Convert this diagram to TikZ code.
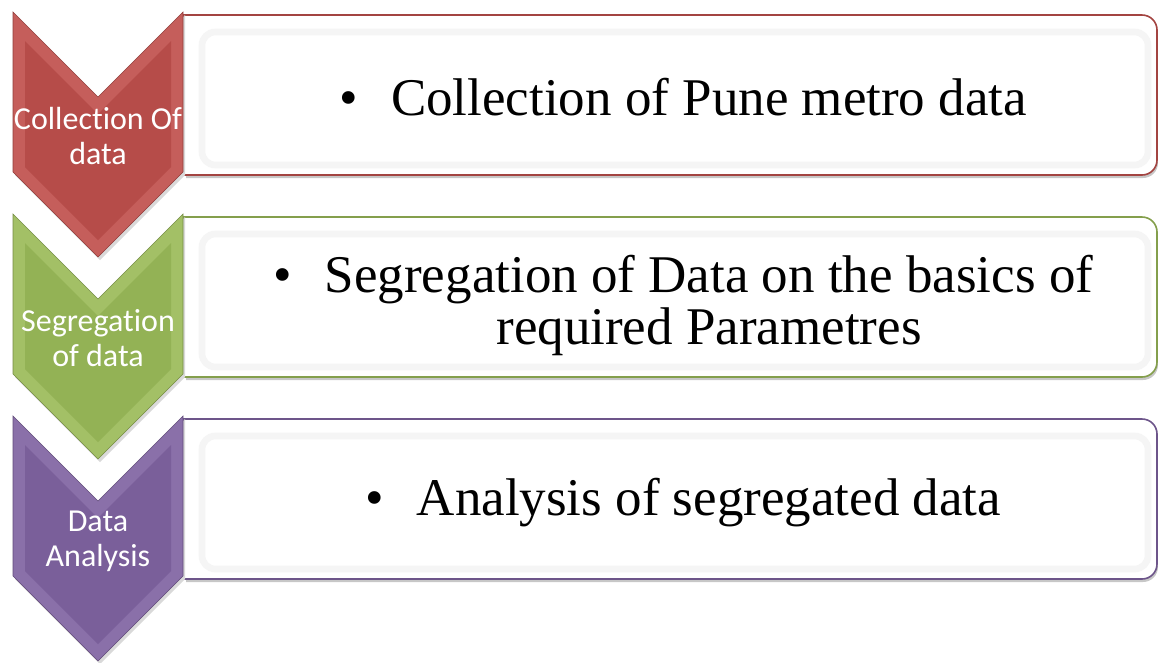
\documentclass[tikz,border=0pt]{standalone}
\usepackage{fontspec}
\setmainfont{Liberation Serif}
\newfontfamily\lblfont[Ligatures={NoCommon, NoRequired, NoContextual}]{Carlito}
\usepackage{tikz}
\usetikzlibrary{positioning, calc}
\definecolor{stepred}{RGB}{192, 80, 77}
\definecolor{stepgreen}{RGB}{155, 187, 89}
\definecolor{steppurple}{RGB}{128, 100, 162}
\tikzset{
    lbl/.style={text=white, font=\lblfont\fontsize{24}{26.5}\selectfont, align=center, inner sep=0pt},
    txt/.style={text=black, font=\fontsize{39.75}{39}\selectfont, align=center, inner sep=0pt},
}

\begin{document}
\begin{tikzpicture}[x=0.75pt, y=-0.75pt]
                \useasboundingbox (0,0) rectangle (1158,662);
                % Boxes and chevrons
                \foreach \T/\c in {12/stepred, 214/stepgreen, 416/steppurple} {
                    % box shadow
                    \fill[black!22] (186,\T+6) -- (1143,\T+6) arc[start angle=-90, end angle=0, radius=15]
                        -- (1158,\T+151) arc[start angle=0, end angle=90, radius=15] -- (186,\T+166) -- cycle;
                    % box
                    \filldraw[fill=white, draw=\c!85!black, line width=1.2] (183,\T+3) -- (1142,\T+3) arc[start angle=-90, end angle=0, radius=15]
                        -- (1157,\T+148) arc[start angle=0, end angle=90, radius=15] -- (183,\T+163) -- cycle;
                    \draw[black!4, line width=5, rounded corners=10] (202,\T+20) rectangle (1148,\T+153);
                    % chevron
                    \fill[black!15] (15,\T+3) -- (100,\T+88) -- (185,\T+3) -- (185,\T+163) -- (100,\T+248) -- (15,\T+163) -- cycle;
                    \filldraw[fill=\c!92!white, draw=\c!75!black] (13,\T) -- (98,\T+85) -- (183,\T) -- (183,\T+160) -- (98,\T+245) -- (13,\T+160) -- cycle;
                    \fill[\c!95!black] (25,\T+29) -- (98,\T+102) -- (171,\T+29) -- (171,\T+155) -- (98,\T+228) -- (25,\T+155) -- cycle;
                }
                % Labels
                \node[lbl] (lbl1) at (98,136) {Collection Of\\data};
                \node[lbl] (lbl2) at (98,338) {Segregation\\of data};
                \node[lbl] (lbl3) at (98,541) {Data\\Analysis};
                % Texts
                \node[txt, anchor=base] (txt1) at (709,115) {\llap{\textbullet\hspace{24.75pt}}Collection of Pune metro data};
                \node[txt] (txt2) at (709,305) {\llap{\textbullet\hspace{24.75pt}}Segregation of Data on the basics of\\required Parametres};
                \node[txt, anchor=base] (txt3) at (709,515) {\llap{\textbullet\hspace{24.75pt}}Analysis of segregated data};
            \end{tikzpicture}
\end{document}
